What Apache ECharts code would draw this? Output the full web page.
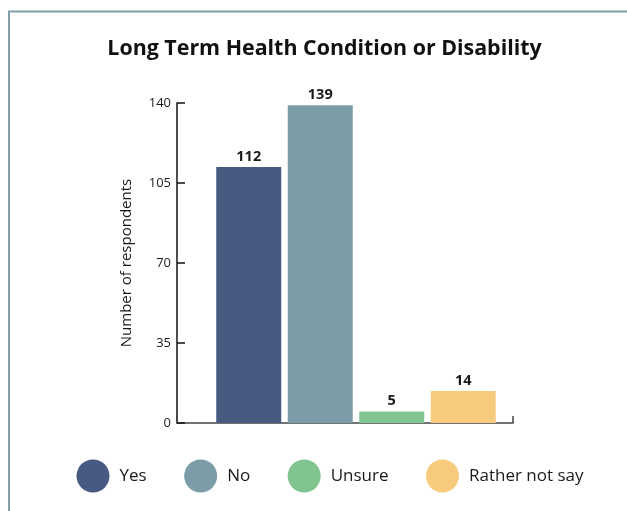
<!DOCTYPE html>
<html>
<head>
<meta charset="utf-8">
<script src="https://cdn.jsdelivr.net/npm/echarts@6/dist/echarts.min.js"></script>
<style>html,body{margin:0;padding:0;background:#fff}#c{width:627px;height:511px}</style>
</head>
<body>
<div id="c"></div>
<script>
var categories = ['Yes', 'No', 'Unsure', 'Rather not say'];
var values = [112, 139, 5, 14];
var colors = ['#475b82', '#7c9da8', '#82c48f', '#f6cb7d'];
var yTicks = [0, 35, 70, 105, 140];
var titleText = 'Long Term Health Condition or Disability';
var yAxisName = 'Number of respondents';

var FONT = '"Open Sans", sans-serif';
var chart = echarts.init(document.getElementById('c'), null, {renderer: 'canvas'});

var series = categories.map(function (name, i) {
  return {
    name: name,
    type: 'bar',
    stack: 'all',
    xAxisIndex: 0,
    yAxisIndex: 0,
    barWidth: 65,
    itemStyle: {color: colors[i]},
    label: {
      show: true, position: 'top', distance: 3,
      fontFamily: FONT, fontWeight: 'bold', fontSize: 14.5, color: '#1a1a1a'
    },
    data: categories.map(function (c, j) { return j === i ? values[i] : '-'; })
  };
});

chart.setOption({
  animation: false,
  backgroundColor: '#fff',
  title: {
    text: titleText,
    left: 319.5, top: 33.5, textAlign: 'center',
    textStyle: {fontFamily: FONT, fontWeight: 'bold', fontSize: 21.4, color: '#111'}
  },
  graphic: [{
    type: 'rect', silent: true, z: -1,
    shape: {x: 9, y: 11.5, width: 800, height: 700},
    style: {fill: null, stroke: '#7f9fa9', lineWidth: 2}
  }],
  legend: {
    left: 71.5, top: 454.5,
    icon: 'circle', itemWidth: 33, itemHeight: 33, itemGap: 37.5,
    textStyle: {fontFamily: FONT, fontSize: 17, color: '#1a1a1a', padding: [0, 0, 0, 5]},
    data: categories
  },
  grid: [
    {left: 213, width: 286, top: 103, height: 320},
    {left: 177, width: 336, top: 103, height: 320}
  ],
  xAxis: [
    {type: 'category', gridIndex: 0, data: categories,
     axisLine: {show: false}, axisTick: {show: false}, axisLabel: {show: false}},
    {type: 'value', gridIndex: 1, min: 0, max: 1, interval: 1,
     axisLine: {show: true, lineStyle: {color: '#444', width: 1.5}},
     axisTick: {show: true, inside: true, length: 7, lineStyle: {color: '#444', width: 1.5}},
     axisLabel: {show: false}, splitLine: {show: false}}
  ],
  yAxis: [
    {type: 'value', gridIndex: 0, min: 0, max: 140, interval: 35, offset: 36,
     name: yAxisName, nameLocation: 'middle', nameGap: 43, nameRotate: 90,
     nameTextStyle: {fontFamily: FONT, fontSize: 15, color: '#1a1a1a'},
     axisLine: {show: true, lineStyle: {color: '#111', width: 1.5}},
     axisTick: {show: true, inside: true, length: 8, lineStyle: {color: '#111', width: 1.5}},
     axisLabel: {fontFamily: FONT, fontSize: 13, color: '#1a1a1a', margin: 6,
       formatter: function (v) { return yTicks.indexOf(v) >= 0 ? String(v) : ''; }},
     splitLine: {show: false}},
    {type: 'value', gridIndex: 1, min: 0, max: 140, show: false}
  ],
  series: series
});
</script>
</body>
</html>
